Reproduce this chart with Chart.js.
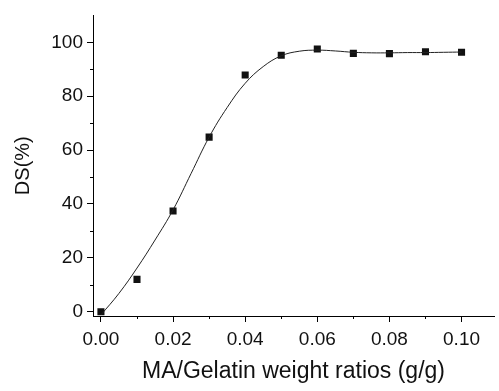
<!DOCTYPE html>
<html>
<head>
<meta charset="utf-8">
<script src="https://cdn.jsdelivr.net/npm/chart.js@4/dist/chart.umd.min.js"></script>
<style>
    html, body { margin: 0; padding: 0; background: #fff; }
    #wrap { width: 499px; height: 391px; }
</style>
</head>
<body>
<div id="wrap"><canvas id="dsChart" width="499" height="391"></canvas></div>
<script>
// Measured points (MA/Gelatin ratio vs DS)
const ratios = [0, 0.01, 0.02, 0.03, 0.04, 0.05, 0.06, 0.07, 0.08, 0.09, 0.10];
const dsValues = [0, 12.0, 37.4, 64.8, 87.9, 95.2, 97.5, 95.9, 95.8, 96.5, 96.3];

// Fitted curve
const fitX = [0, 0.005, 0.01, 0.015, 0.02, 0.025, 0.03, 0.035, 0.04, 0.045, 0.05,
              0.055, 0.06, 0.065, 0.07, 0.075, 0.08, 0.085, 0.09, 0.095, 0.10];
const fitY = [-1.2, 6.8, 16.2, 26.6, 37.8, 51.3, 64.8, 75.8, 84.8, 91.0, 95.0,
              96.7, 97.1, 96.8, 96.3, 96.1, 96.1, 96.2, 96.2, 96.3, 96.4];

const xTicks = [0, 0.02, 0.04, 0.06, 0.08, 0.10];
const xMinor = [0.01, 0.03, 0.05, 0.07, 0.09];
const yTicks = [0, 20, 40, 60, 80, 100];
const yMinor = [10, 30, 50, 70, 90];

// Draw short minor ticks outside the axes
const minorTicks = {
    id: 'minorTicks',
    afterDraw(chart) {
        const ctx = chart.ctx;
        const x = chart.scales.x, y = chart.scales.y;
        ctx.save();
        ctx.strokeStyle = '#000';
        ctx.lineWidth = 1;
        ctx.beginPath();
        xMinor.forEach(v => {
            const px = Math.round(x.getPixelForValue(v)) + 0.5;
            ctx.moveTo(px, y.bottom);
            ctx.lineTo(px, y.bottom + 3);
        });
        yMinor.forEach(v => {
            const py = Math.round(y.getPixelForValue(v)) + 0.5;
            ctx.moveTo(x.left, py);
            ctx.lineTo(x.left - 3, py);
        });
        ctx.stroke();
        ctx.restore();
    }
};

const ctx = document.getElementById('dsChart').getContext('2d');
new Chart(ctx, {
    type: 'scatter',
    data: {
        datasets: [{
            type: 'line',
            label: 'fit',
            data: fitX.map((v, i) => ({ x: v, y: fitY[i] })),
            borderColor: '#222',
            borderWidth: 1,
            pointRadius: 0,
            tension: 0.4,
            fill: false
        }, {
            label: 'DS',
            data: ratios.map((v, i) => ({ x: v, y: dsValues[i] })),
            pointStyle: 'rect',
            pointRadius: 5,
            backgroundColor: '#111',
            borderColor: '#111',
            borderWidth: 0
        }]
    },
    options: {
        responsive: false,
        animation: false,
        layout: { padding: { top: 14, right: 0, left: 0, bottom: 0 } },
        plugins: { legend: { display: false }, tooltip: { enabled: false } },
        scales: {
            x: {
                type: 'linear',
                min: -0.0022,
                max: 0.109,
                afterBuildTicks: scale => { scale.ticks = xTicks.map(v => ({ value: v })); },
                afterFit: scale => { scale.height = 75; },
                ticks: {
                    color: '#111',
                    font: { family: 'Liberation Sans', size: 19 },
                    padding: 6,
                    maxRotation: 0,
                    callback: v => v.toFixed(2)
                },
                grid: { drawOnChartArea: false, tickLength: 6, tickColor: '#000' },
                border: { color: '#000', width: 1 },
                title: {
                    display: true,
                    text: 'MA/Gelatin weight ratios (g/g)',
                    color: '#111',
                    font: { family: 'Liberation Sans', size: 23 },
                    padding: { top: 0, bottom: 6 }
                }
            },
            y: {
                min: -1.6,
                max: 110,
                afterBuildTicks: scale => { scale.ticks = yTicks.map(v => ({ value: v })); },
                afterFit: scale => { scale.width = 93; },
                ticks: {
                    color: '#111',
                    font: { family: 'Liberation Sans', size: 19 },
                    padding: 4
                },
                grid: { drawOnChartArea: false, tickLength: 6, tickColor: '#000' },
                border: { color: '#000', width: 1 },
                title: {
                    display: true,
                    text: 'DS(%)',
                    color: '#111',
                    font: { family: 'Liberation Sans', size: 20 },
                    padding: { top: 11, bottom: 0 }
                }
            }
        }
    },
    plugins: [minorTicks]
});
</script>
</body>
</html>
